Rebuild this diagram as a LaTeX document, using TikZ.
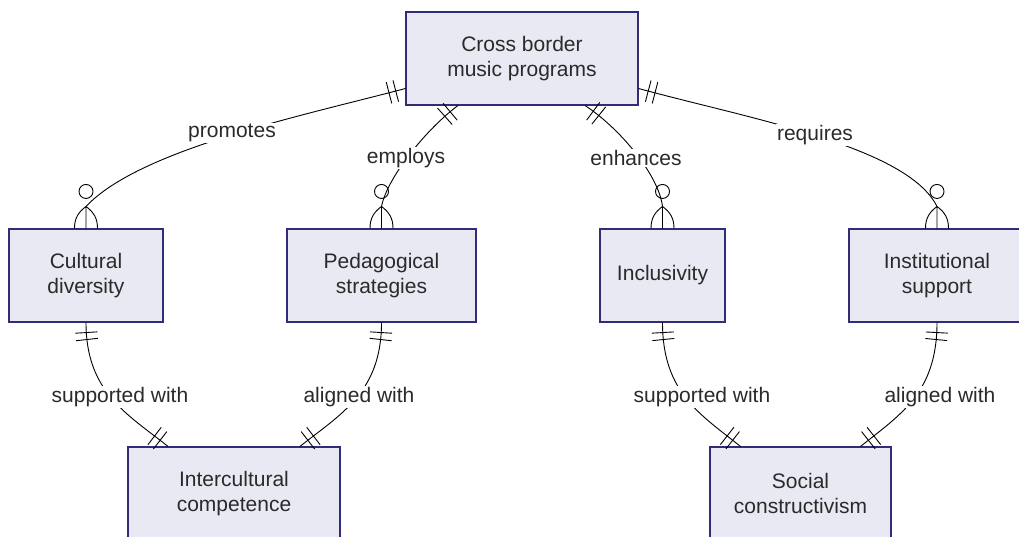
\documentclass[tikz,border=0pt]{standalone}
\usepackage{fontspec}
\setmainfont{Liberation Sans}
\usetikzlibrary{decorations.markings}
\definecolor{erline}{HTML}{302C78}
\definecolor{erfill}{HTML}{E9E9F3}
\definecolor{ertext}{HTML}{2A2A2A}
\tikzset{
  entity/.style={draw=erline, fill=erfill, line width=1.1pt, minimum height=93pt,
    inner sep=0pt, align=center, text=ertext, font=\fontsize{21pt}{25pt}\selectfont},
  rel/.style={fill=white, inner sep=1pt, text=ertext, font=\fontsize{21pt}{25pt}\selectfont},
  onestart/.style={postaction={decorate,decoration={markings,
    mark=at position 10pt with {\draw (0pt,-11pt) -- (0pt,11pt);},
    mark=at position 17pt with {\draw (0pt,-11pt) -- (0pt,11pt);}}}},
  oneend/.style={postaction={decorate,decoration={markings,
    mark=at position -10pt with {\draw (0pt,-11pt) -- (0pt,11pt);},
    mark=at position -17pt with {\draw (0pt,-11pt) -- (0pt,11pt);}}}}
}
\newcommand{\crowfoot}[1]{%
  \draw (#1) ++(0,-22) .. controls +(8,6) and +(0,-10) .. ++(11.5,22)
        (#1) ++(0,-22) .. controls +(-8,6) and +(0,-10) .. ++(-11.5,22)
        (#1) ++(0,-22) -- (#1);
  \draw (#1) ++(0,-37) circle[radius=7];}

\begin{document}
\begin{tikzpicture}[x=1pt,y=-1pt,line width=0.9pt]
		\useasboundingbox (0,0) rectangle (1019,537);
		\clip (0,0) rectangle (1019,537);
		\node[entity, at={(522,58.5)}, minimum width=232pt] (prog) {Cross border\\music programs};
		\node[entity, at={(86,275.5)}, minimum width=154pt] (div) {Cultural\\diversity};
		\node[entity, at={(381.5,275.5)}, minimum width=189pt] (ped) {Pedagogical\\strategies};
		\node[entity, at={(662.5,275.5)}, minimum width=125pt] (incl) {Inclusivity};
		\node[entity, at={(937,275.5)}, minimum width=176pt] (inst) {Institutional\\support};
		\node[entity, at={(234,493.5)}, minimum width=212pt] (comp) {Intercultural\\competence};
		\node[entity, at={(800.5,493.5)}, minimum width=181pt] (soc) {Social\\constructivism};
		\draw[onestart] ([yshift=-30pt]prog.west) .. controls +(-106,28) and +(54,-57) .. ([yshift=22pt]div.north);
		\draw[onestart] ([xshift=-64pt]prog.south) .. controls +(-30,22) and +(6,-30) .. ([yshift=22pt]ped.north);
		\draw[onestart] ([xshift=63pt]prog.south) .. controls +(34,22) and +(-4,-32) .. ([yshift=22pt]incl.north);
		\draw[onestart] ([yshift=-30pt]prog.east) .. controls +(110,30) and +(-30,-60) .. ([yshift=22pt]inst.north);
		\crowfoot{div.north}
		\crowfoot{ped.north}
		\crowfoot{incl.north}
		\crowfoot{inst.north}
		\draw[onestart,oneend] (div.south) .. controls +(0,70) and +(-40,-32) .. ([xshift=-66pt]comp.north);
		\draw[onestart,oneend] (ped.south) .. controls +(0,70) and +(40,-32) .. ([xshift=66pt]comp.north);
		\draw[onestart,oneend] (incl.south) .. controls +(0,70) and +(-40,-32) .. ([xshift=-60pt]soc.north);
		\draw[onestart,oneend] (inst.south) .. controls +(0,70) and +(40,-32) .. ([xshift=60pt]soc.north);
		\node[rel, at={(232,133)}] (promotes) {promotes};
		\node[rel, at={(406,158)}] (employs) {employs};
		\node[rel, at={(636,158)}] (enhances) {enhances};
		\node[rel, at={(815,135)}] (requires) {requires};
		\node[rel, at={(120,397)}] (supleft) {supported with};
		\node[rel, at={(359,397)}] (alileft) {aligned with};
		\node[rel, at={(702,397)}] (supright) {supported with};
		\node[rel, at={(940,397)}] (aliright) {aligned with};
\end{tikzpicture}
\end{document}
